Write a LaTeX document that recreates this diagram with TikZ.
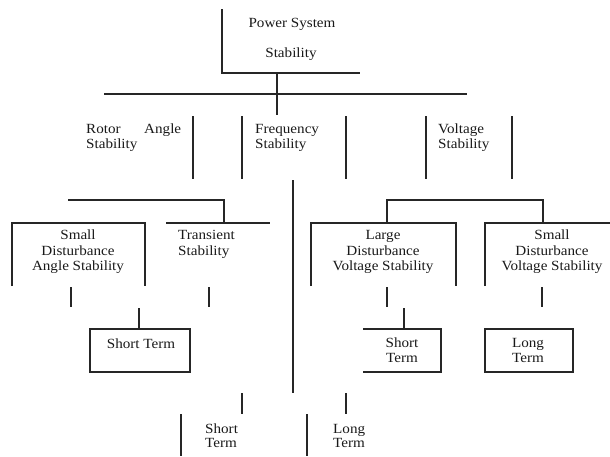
\documentclass[tikz,border=0pt]{standalone}
\usepackage{fontspec}
\setmainfont{Liberation Serif}[FakeStretch=1.08]
\begin{document}
\begin{tikzpicture}[x=1pt,y=-1pt,
  ln/.style={line width=1.3pt,draw=black!85},
  lbl/.style={inner sep=0pt,font=\fontsize{14}{15.5}\selectfont,text=black!90}]
\useasboundingbox (0,0) rectangle (610,456);
% connector lines
\draw[ln] (222,9) -- (222,73) -- (360,73);
\draw[ln] (277,73) -- (277,115);
\draw[ln] (104,94) -- (467,94);
\foreach \x in {193,242,346,426,512} \draw[ln] (\x,116) -- (\x,179);
\draw[ln] (293,180) -- (293,393);
\draw[ln] (68,200) -- (224,200) -- (224,223);
\draw[ln] (12,286) -- (12,223) -- (145,223) -- (145,286);
\draw[ln] (166,223) -- (270,223);
\draw[ln] (71,287) -- (71,307);
\draw[ln] (209,287) -- (209,307);
\draw[ln] (139,308) -- (139,329);
\draw[ln] (90,329) rectangle (190,372);
\draw[ln] (387,223) -- (387,200) -- (543,200) -- (543,223);
\draw[ln] (311,286) -- (311,223) -- (456,223) -- (456,286);
\draw[ln] (485,286) -- (485,223) -- (610,223);
\draw[ln] (387,287) -- (387,307);
\draw[ln] (542,287) -- (542,307);
\draw[ln] (404,308) -- (404,329);
\draw[ln] (363,329) -- (441,329) -- (441,372) -- (363,372);
\draw[ln] (485,329) rectangle (573,372);
\draw[ln] (242,393) -- (242,414);
\draw[ln] (346,393) -- (346,414);
\draw[ln] (181,414) -- (181,456);
\draw[ln] (307,414) -- (307,456);
% labels
\node[lbl,anchor=base] (ps1) at (292,27.5) {Power System};
\node[lbl,anchor=base] (ps2) at (291,57.5) {Stability};
\node[lbl,anchor=base west] (ra1) at (86,133.5) {\hbox to 95pt{Rotor\hfill Angle}};
\node[lbl,anchor=base west] (ra2) at (86,148.5) {Stability};
\node[lbl,anchor=base west] (fs1) at (255,133.5) {Frequency};
\node[lbl,anchor=base west] (fs2) at (255,148.5) {Stability};
\node[lbl,anchor=base west] (vs1) at (438,133.5) {Voltage};
\node[lbl,anchor=base west] (vs2) at (438,148.5) {Stability};
\node[lbl,anchor=base] (sa1) at (78,239.5) {Small};
\node[lbl,anchor=base] (sa2) at (78,255) {Disturbance};
\node[lbl,anchor=base] (sa3) at (78,270.5) {Angle Stability};
\node[lbl,anchor=base west] (ts1) at (178,239.5) {Transient};
\node[lbl,anchor=base west] (ts2) at (178,255) {Stability};
\node[lbl,anchor=base] (st1) at (141,348.5) {Short Term};
\node[lbl,anchor=base] (lv1) at (383,239.5) {Large};
\node[lbl,anchor=base] (lv2) at (383,255) {Disturbance};
\node[lbl,anchor=base] (lv3) at (383,270.5) {Voltage Stability};
\node[lbl,anchor=base] (sv1) at (552,239.5) {Small};
\node[lbl,anchor=base] (sv2) at (552,255) {Disturbance};
\node[lbl,anchor=base] (sv3) at (552,270.5) {Voltage Stability};
\node[lbl,anchor=base] (vst1) at (402,347.5) {Short};
\node[lbl,anchor=base] (vst2) at (402,362.5) {Term};
\node[lbl,anchor=base] (vlt1) at (528,347.5) {Long};
\node[lbl,anchor=base] (vlt2) at (528,362.5) {Term};
\node[lbl,anchor=base west] (fst1) at (205,433.5) {Short};
\node[lbl,anchor=base west] (fst2) at (205,447.5) {Term};
\node[lbl,anchor=base west] (flt1) at (333,433.5) {Long};
\node[lbl,anchor=base west] (flt2) at (333,447.5) {Term};
\end{tikzpicture}
\end{document}
